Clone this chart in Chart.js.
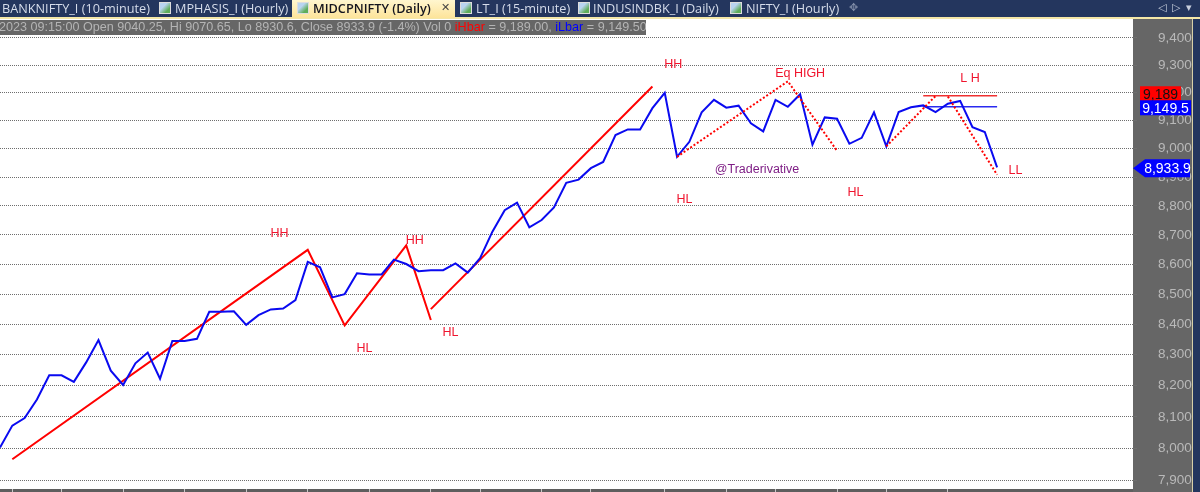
<!DOCTYPE html>
<html>
<head>
<meta charset="utf-8">
<title>MIDCPNIFTY (Daily)</title>
<script src="https://cdn.jsdelivr.net/npm/chart.js@4/dist/chart.umd.min.js"></script>
<style>
    html, body { margin: 0; padding: 0; background: #fff; overflow: hidden; }
    #wrap { position: relative; width: 1200px; height: 492px; overflow: hidden; }
    #tabbar { position: absolute; left: 0; top: 0; width: 1200px; height: 17px; background: #24365e; z-index: 2; }
    #tabline { position: absolute; left: 0; top: 17px; width: 1200px; height: 2px; background: #f4e7a8; z-index: 2; }
    #active { position: absolute; left: 292px; top: 0; width: 163px; height: 18px; background: linear-gradient(#fff6cf, #fde49a); z-index: 3; }
    .tab { position: absolute; top: -1px; font: 12.7px/19px "Open Sans", sans-serif; color: #d5dcea; white-space: nowrap; z-index: 4; }
    .tab.on { color: #14141e; font-weight: 600; }
    .icon { position: absolute; top: 2px; width: 12px; height: 12px; background: linear-gradient(135deg, #b9d4f0 35%, #5fae5a 75%); border: 1px solid #ddd; box-sizing: border-box; z-index: 4; }
    .nav { position: absolute; top: -1px; font: 11px/18px "DejaVu Sans", sans-serif; color: #c8cfdd; z-index: 4; }
    #info { position: absolute; left: 0; top: 20px; width: 646px; height: 15px; background: #666; overflow: hidden; z-index: 2;
            font: 12.6px/15px "Liberation Sans", sans-serif; color: #b4b4b4; white-space: nowrap; text-indent: -1px; }
    #info .hi { color: #f00; }
    #info .lo { color: #00f; }
    canvas { position: absolute; left: 0; top: 0; }
</style>
</head>
<body>
<div id="wrap">
    <canvas id="chart" width="1200" height="492"></canvas>
    <div id="tabbar"></div>
    <div id="tabline"></div>
    <div id="active"></div>
    <span class="tab" style="left:2px">BANKNIFTY_I (10-minute)</span>
    <span class="icon" style="left:159px"></span>
    <span class="tab" style="left:175px">MPHASIS_I (Hourly)</span>
    <span class="icon" style="left:297px"></span>
    <span class="tab on" style="left:313px">MIDCPNIFTY (Daily)</span>
    <span class="nav" style="left:441px;color:#444">✕</span>
    <span class="icon" style="left:460px"></span>
    <span class="tab" style="left:476px">LT_I (15-minute)</span>
    <span class="icon" style="left:578px"></span>
    <span class="tab" style="left:593px">INDUSINDBK_I (Daily)</span>
    <span class="icon" style="left:730px"></span>
    <span class="tab" style="left:746px">NIFTY_I (Hourly)</span>
    <span class="nav" style="left:849px;color:#7d8aa5">✥</span>
    <span class="nav" style="left:1158px">◁</span>
    <span class="nav" style="left:1172px">▷</span>
    <span class="nav" style="left:1186px">▾</span>
    <div id="info">2023 09:15:00 Open 9040.25, Hi 9070.65, Lo 8930.6, Close 8933.9 (-1.4%) Vol 0 <span class="hi">iHbar</span> = 9,189.00, <span class="lo">iLbar</span> = 9,149.50</div>
</div>

<script>
const closes = [8003, 8072, 8096, 8155, 8233, 8233, 8212, 8275, 8348, 8248,
    8202, 8272, 8307, 8222, 8345, 8345, 8352, 8441, 8441, 8443,
    8398, 8430, 8449, 8452, 8480, 8608, 8590, 8489, 8500, 8570,
    8566, 8566, 8616, 8601, 8577, 8580, 8580, 8603, 8572, 8621,
    8711, 8785, 8811, 8726, 8751, 8794, 8880, 8891, 8931, 8953,
    9048, 9068, 9068, 9144, 9199, 8971, 9024, 9129, 9174, 9146,
    9153, 9090, 9061, 9174, 9149, 9194, 9014, 9111, 9106, 9017,
    9038, 9129, 9008, 9130, 9147, 9154, 9130, 9160, 9170, 9076,
    9059, 8933.9]

const priceTicks = [7900, 8000, 8100, 8200, 8300, 8400, 8500, 8600, 8700, 8800, 8900, 9000, 9100, 9200, 9300, 9400]
const dateTickBars = [1, 5, 10, 15, 20, 25, 30, 35, 39, 44, 48, 54, 59, 63, 68, 72, 77]

// trend lines drawn on the chart, [bar, price]
const trendBars = [1, 25, 28, 33, 35]
const trendPrices = [7966, 8649, 8396, 8664, 8414]
const riseBars = [35, 53]
const risePrices = [8450, 9222]
const eqHighBars = [55, 64, 68]
const eqHighPrices = [8971, 9241, 8992]
const lowerHighBars = [72, 76]
const lowerHighPrices = [9008, 9188]
const lowerLowBars = [77, 81]
const lowerLowPrices = [9186, 8908]

const iHbar = 9189
const iLbar = 9149.5
const levelBars = [75, 81]

const noteTexts = ['HH', 'Eq HIGH', 'L H', '@Traderivative', 'HL', 'HL', 'LL', 'HH', 'HH', 'HL', 'HL']
const noteBars = [54.7, 65, 78.8, 61.5, 55.6, 69.5, 82.5, 22.7, 33.7, 29.6, 36.6]
const notePrices = [9303, 9270, 9252, 8925, 8821, 8846, 8921, 8703, 8680, 8320, 8373]

function toPoints(bars, prices) {
    return bars.map((b, i) => ({ x: b, y: prices[i] }))
}

function redLine(bars, prices, dashed) {
    return {
        data: toPoints(bars, prices),
        borderColor: '#ff0000',
        borderWidth: 2,
        borderDash: dashed ? [2, 2] : [],
        pointRadius: 0,
        tension: 0
    }
}

function levelLine(price, color) {
    return {
        data: toPoints(levelBars, [price, price]),
        borderColor: color,
        borderWidth: 1.5,
        pointRadius: 0
    }
}

// gray price panel and navy frame, behind the scale
const panelPlugin = {
    id: 'panel',
    beforeDraw(chart) {
        const c = chart.ctx
        const area = chart.chartArea
        c.save()
        c.fillStyle = '#666'
        c.fillRect(area.right, area.top, 60, 492 - area.top)
        c.fillStyle = '#d8d0a8'
        c.fillRect(area.right + 59, area.top, 1, 492 - area.top)
        c.fillStyle = '#24365e'
        c.fillRect(area.right + 60, area.top, 7, 492 - area.top)
        c.fillStyle = '#5e5e5e'
        c.fillRect(0, area.bottom, area.right, 3)
        c.restore()
    }
}

function badge(c, y, text, left, right, back, color, arrow) {
    c.fillStyle = back
    c.beginPath()
    if (arrow) {
        c.moveTo(left - 12, y)
        c.lineTo(left, y - 9)
        c.lineTo(right, y - 9)
        c.lineTo(right, y + 9)
        c.lineTo(left, y + 9)
    } else {
        c.rect(left, y - 7.5, right - left, 15)
    }
    c.closePath()
    c.fill()
    c.fillStyle = color
    c.textAlign = 'center'
    c.textBaseline = 'middle'
    c.fillText(text, (left + right) / 2, y + 1)
}

const notesPlugin = {
    id: 'notes',
    afterDraw(chart) {
        const c = chart.ctx
        const x = chart.scales.x
        const y = chart.scales.y
        c.save()
        c.textAlign = 'center'
        c.textBaseline = 'middle'
        c.font = '12.5px "Liberation Sans", Arial, sans-serif'
        noteTexts.forEach((t, i) => {
            c.fillStyle = t[0] == '@' ? '#7f1f86' : '#f0142d'
            c.fillText(t, x.getPixelForValue(noteBars[i]), y.getPixelForValue(notePrices[i]))
        })
        c.font = '14px "Liberation Sans", Arial, sans-serif'
        badge(c, y.getPixelForValue(iHbar) - 2, '9,189', 1140, 1181, '#f00', '#111')
        badge(c, y.getPixelForValue(iLbar) + 1, '9,149.5', 1140, 1191, '#00f', '#fff')
        badge(c, y.getPixelForValue(closes[closes.length - 1]) + 1, '8,933.9', 1145, 1190, '#00f', '#fff', true)
        c.restore()
    }
}

new Chart(document.getElementById('chart'), {
    type: 'line',
    data: {
        datasets: [
            redLine(lowerLowBars, lowerLowPrices, true),
            redLine(lowerHighBars, lowerHighPrices, true),
            redLine(eqHighBars, eqHighPrices, true),
            {
                data: closes.map((v, i) => ({ x: i, y: v })),
                borderColor: '#0a0af0',
                borderWidth: 2,
                pointRadius: 0,
                tension: 0
            },
            levelLine(iLbar, '#2a2af0'),
            levelLine(iHbar, '#f03030'),
            redLine(trendBars, trendPrices, false),
            redLine(riseBars, risePrices, false)
        ]
    },
    options: {
        responsive: false,
        animation: false,
        events: [],
        layout: { padding: { top: 19, right: 0, bottom: 0, left: 0 } },
        plugins: { legend: { display: false }, tooltip: { enabled: false } },
        scales: {
            x: {
                type: 'linear',
                min: 0,
                max: 92.04,
                border: { display: false },
                grid: { drawOnChartArea: false, tickLength: 3, color: '#c8c8c8' },
                ticks: { display: false },
                afterBuildTicks(s) { s.ticks = dateTickBars.map(v => ({ value: v })) },
                afterFit(s) {
                    s.height = 3
                    s.paddingLeft = s.paddingRight = s.paddingTop = s.paddingBottom = 0
                }
            },
            y: {
                type: 'logarithmic',
                position: 'right',
                min: 7873.5,
                max: 9470,
                border: { display: false, dash: [1, 1] },
                grid: { color: '#6e6e6e', tickLength: 4, lineWidth: 1 },
                afterBuildTicks(s) { s.ticks = priceTicks.map(v => ({ value: v })) },
                afterFit(s) {
                    s.width = 67
                    s.paddingLeft = s.paddingRight = s.paddingTop = s.paddingBottom = 0
                },
                ticks: {
                    autoSkip: false,
                    color: '#b9b9b9',
                    padding: 21,
                    maxRotation: 0,
                    font: { family: '"Liberation Sans", Arial, sans-serif', size: 13.5 },
                    callback: v => v.toLocaleString('en-US')
                }
            }
        }
    },
    plugins: [panelPlugin, notesPlugin]
})
</script>
</body>
</html>
